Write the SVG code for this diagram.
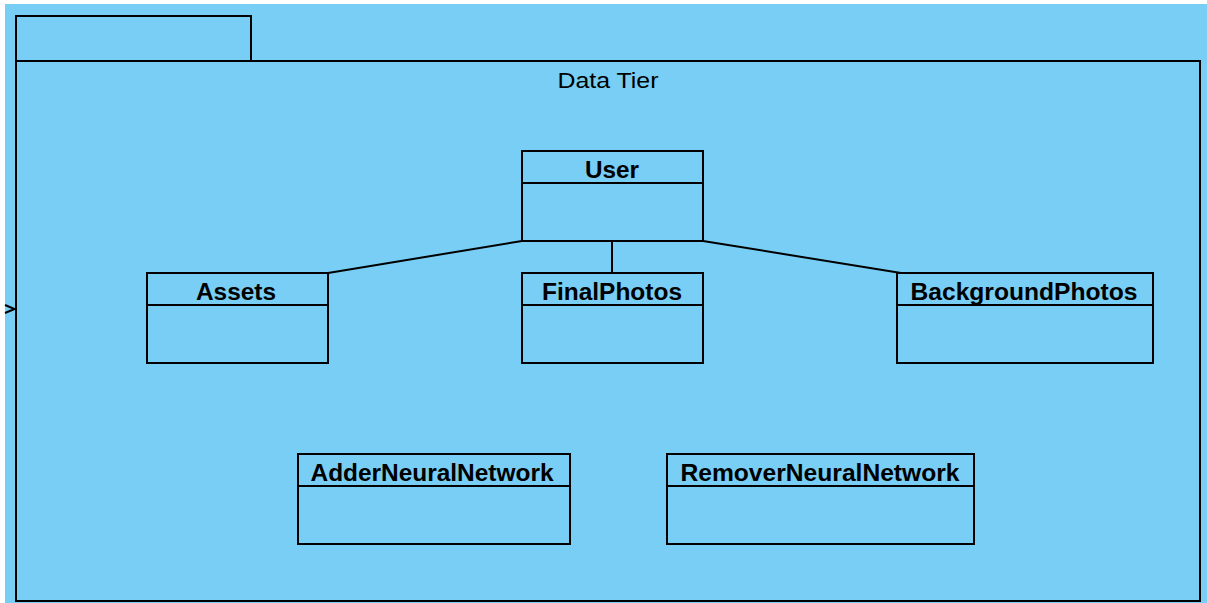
<svg xmlns="http://www.w3.org/2000/svg" width="1207" height="603" viewBox="0 0 1207 603">
<style>
.box{fill:#78cef4;stroke:#000;stroke-width:2}
.ln{fill:none;stroke:#000;stroke-width:2}
.cls{font-family:"Liberation Sans",Arial,sans-serif;font-size:23px;font-weight:bold;text-anchor:middle;fill:#000}
.pkg{font-family:"Liberation Sans",Arial,sans-serif;font-size:22px;text-anchor:middle;fill:#000}
</style>
<rect x="0" y="0" width="1207" height="603" fill="#ffffff"/>
<rect x="5" y="4" width="1202" height="599" fill="#78cef4"/>
<g id="package">
<rect class="box" x="16" y="16" width="235" height="45"/>
<rect class="box" x="16" y="61" width="1184" height="540"/>
<text class="pkg" x="608" y="88" textLength="101" lengthAdjust="spacingAndGlyphs">Data Tier</text>
</g>
<g id="connectors">
<line class="ln" x1="522" y1="241" x2="322" y2="274"/>
<line class="ln" x1="612" y1="241" x2="612" y2="273"/>
<line class="ln" x1="703" y1="241" x2="901" y2="273"/>
<polyline class="ln" points="5,305 14.5,309 5,313" stroke-width="2.5"/>
</g>
<g id="User">
<rect class="box" x="522" y="151" width="181" height="90"/>
<line class="ln" x1="522" y1="183" x2="703" y2="183"/>
<text class="cls" x="612" y="178" textLength="54" lengthAdjust="spacingAndGlyphs">User</text>
</g>
<g id="Assets">
<rect class="box" x="147" y="273" width="181" height="90"/>
<line class="ln" x1="147" y1="305" x2="328" y2="305"/>
<text class="cls" x="236" y="300" textLength="80" lengthAdjust="spacingAndGlyphs">Assets</text>
</g>
<g id="FinalPhotos">
<rect class="box" x="522" y="273" width="181" height="90"/>
<line class="ln" x1="522" y1="305" x2="703" y2="305"/>
<text class="cls" x="612" y="300" textLength="140" lengthAdjust="spacingAndGlyphs">FinalPhotos</text>
</g>
<g id="BackgroundPhotos">
<rect class="box" x="897" y="273" width="256" height="90"/>
<line class="ln" x1="897" y1="305" x2="1153" y2="305"/>
<text class="cls" x="1024" y="300" textLength="227" lengthAdjust="spacingAndGlyphs">BackgroundPhotos</text>
</g>
<g id="AdderNeuralNetwork">
<rect class="box" x="298" y="454" width="272" height="90"/>
<line class="ln" x1="298" y1="486" x2="570" y2="486"/>
<text class="cls" x="432" y="481" textLength="243" lengthAdjust="spacingAndGlyphs">AdderNeuralNetwork</text>
</g>
<g id="RemoverNeuralNetwork">
<rect class="box" x="667" y="454" width="307" height="90"/>
<line class="ln" x1="667" y1="486" x2="974" y2="486"/>
<text class="cls" x="820" y="481" textLength="279" lengthAdjust="spacingAndGlyphs">RemoverNeuralNetwork</text>
</g>
</svg>
